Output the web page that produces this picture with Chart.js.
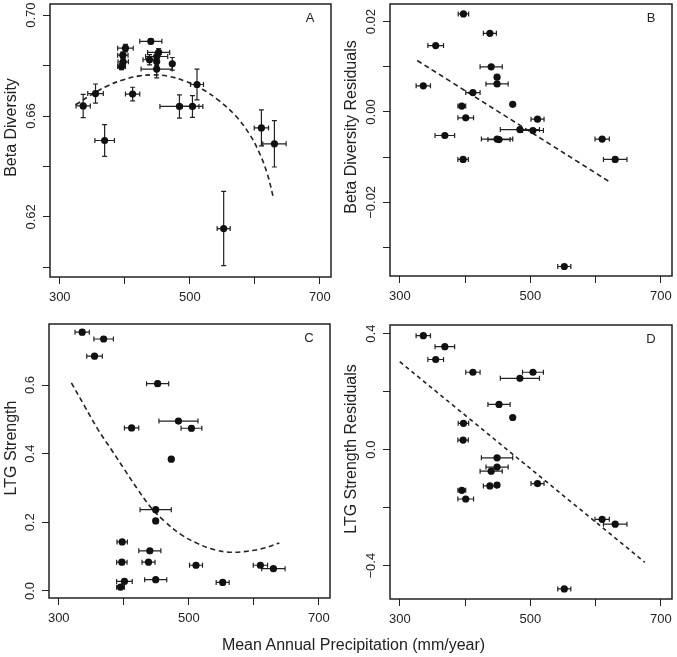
<!DOCTYPE html>
<html>
<head>
<meta charset="utf-8">
<script src="https://cdn.jsdelivr.net/npm/chart.js@4.4.1/dist/chart.umd.min.js"></script>
<style>
  body { margin: 0; background: #fff; }
  #wrap { position: relative; width: 677px; height: 657px; }
  canvas { position: absolute; }
  #xtitle {
    position: absolute; left: 15px; top: 636px; width: 677px; line-height: 20px;
    text-align: center; font: 16px 'Liberation Sans', Arial, sans-serif; color: #222;
  }
</style>
</head>
<body>
<div id="wrap">
  <canvas id="panelA" width="340" height="315" style="left:0;top:0"></canvas>
  <canvas id="panelB" width="337" height="315" style="left:340px;top:0"></canvas>
  <canvas id="panelC" width="340" height="342" style="left:0;top:315px"></canvas>
  <canvas id="panelD" width="337" height="342" style="left:340px;top:315px"></canvas>
  <div id="xtitle">Mean Annual Precipitation (mm/year)</div>
</div>
<script>
// --- data (one entry per site) ---
const precip    = [336, 355, 369, 395, 397.5, 397, 401, 412, 438, 440, 449, 449, 449, 452, 473, 484, 504, 511, 552, 610, 630];
const precipErr = [11, 12, 15, 6, 8, 8, 12, 11, 10, 17, 24, 17, 3, 17, 2, 30, 16, 10, 10, 11, 18];

const betaDiv    = [0.664, 0.6689, 0.6503, 0.6796, 0.6815, 0.6841, 0.6869, 0.6687, 0.6823, 0.6896, 0.6786,
                    0.6836, 0.6816, 0.6852, 0.6807, 0.6638, 0.6638, 0.6725, 0.6154, 0.6553, 0.649];
const betaDivErr = [0.0046, 0.0038, 0.0063, 0.0012, 0.0012, 0.0012, 0.0015, 0.0027, 0.002, 0.001, 0.0035,
                    0.0015, 0.0015, 0.0015, 0.0025, 0.0046, 0.0043, 0.0061, 0.0147, 0.0071, 0.0092];
const betaResid  = [0.0058, 0.0147, -0.0052, 0.0013, 0.0217, -0.0105, -0.0013, 0.0043, 0.0174, 0.0100, -0.0060,
                    0.0062, 0.0077, -0.0061, 0.0017, -0.0039, -0.0041, -0.0016, -0.0342, -0.0060, -0.0105];

const ltg      = [0.754, 0.684, 0.734, 0.011, 0.143, 0.084, 0.028, 0.475, 0.084, 0.117, 0.237,
                  0.033, 0.204, 0.604, 0.384, 0.495, 0.474, 0.075, 0.025, 0.075, 0.065];
const ltgErr   = [0.007, 0.007, 0.007, 0.006, 0.006, 0.006, 0.006, 0.007, 0.006, 0.006, 0.006,
                  0.006, 0.006, 0.007, 0.006, 0.007, 0.007, 0.006, 0.006, 0.006, 0.006];
const ltgResid = [0.393, 0.311, 0.355, -0.140, 0.091, 0.033, -0.170, 0.267, -0.125, -0.074, -0.028,
                  -0.060, -0.122, 0.156, 0.111, 0.246, 0.267, -0.117, -0.480, -0.240, -0.257];

// fitted lines
const fitAx = [324.5, 345.9, 371.4, 396.9, 422.4, 442.8, 468.3, 493.8, 519.3, 544.8, 570.3, 590.7, 606, 618.8, 629];
const fitAy = [0.6644, 0.6680, 0.6717, 0.6743, 0.6759, 0.6763, 0.6757, 0.6737, 0.6706, 0.6661, 0.6601, 0.6532, 0.6459, 0.6373, 0.6270];
const fitBx = [326.7, 624.1];
const fitBy = [0.0114, -0.0157];
const fitCx = [319.4, 339.9, 360.4, 380.8, 401.3, 421.7, 442.2, 462.7, 488.2, 513.8, 539.4, 565, 590.5, 616.1, 639.1];
const fitCy = [0.606, 0.538, 0.470, 0.412, 0.353, 0.295, 0.242, 0.203, 0.164, 0.138, 0.120, 0.113, 0.116, 0.125, 0.140];
const fitDx = [300, 675.4];
const fitDy = [0.3034, -0.3885];

// ticks
const xTicks = [300, 400, 500, 600, 700];
const xTickLabels = ['300', '', '500', '', '700'];
const yTicksA = [0.60, 0.62, 0.64, 0.66, 0.68, 0.70];
const yLabelsA = ['', '0.62', '', '0.66', '', '0.70'];
const yTicksB = [-0.03, -0.02, -0.01, 0, 0.01, 0.02];
const yLabelsB = ['', '\u22120.02', '', '0.00', '', '0.02'];
const yTicksC = [0, 0.2, 0.4, 0.6];
const yLabelsC = ['0.0', '0.2', '0.4', '0.6'];
const yTicksD = [-0.4, -0.2, 0, 0.2, 0.4];
const yLabelsD = ['\u22120.4', '', '0.0', '', '0.4'];

Chart.defaults.font.family = "'Liberation Sans', Arial, Helvetica, sans-serif";
Chart.defaults.color = '#222';
const TICK_SIZE = 13;

function widestLabel(labels) {
  const ctx = document.createElement('canvas').getContext('2d');
  ctx.font = 'normal ' + TICK_SIZE + 'px ' + Chart.defaults.font.family;
  return Math.max(...labels.map(s => ctx.measureText(s).width));
}

// error bars under the points
const errorBars = {
  id: 'errorBars',
  beforeDatasetsDraw(chart) {
    const {ctx, scales: {x, y}} = chart;
    const cap = 2.5;
    ctx.save();
    ctx.strokeStyle = '#222';
    ctx.lineWidth = 1.2;
    chart.data.datasets[0].data.forEach(p => {
      const px = x.getPixelForValue(p.x), py = y.getPixelForValue(p.y);
      ctx.beginPath();
      if (p.xErr) {
        const x0 = x.getPixelForValue(p.x - p.xErr), x1 = x.getPixelForValue(p.x + p.xErr);
        ctx.moveTo(x0, py); ctx.lineTo(x1, py);
        ctx.moveTo(x0, py - cap); ctx.lineTo(x0, py + cap);
        ctx.moveTo(x1, py - cap); ctx.lineTo(x1, py + cap);
      }
      if (p.yErr) {
        const y0 = y.getPixelForValue(p.y - p.yErr), y1 = y.getPixelForValue(p.y + p.yErr);
        ctx.moveTo(px, y0); ctx.lineTo(px, y1);
        ctx.moveTo(px - cap, y0); ctx.lineTo(px + cap, y0);
        ctx.moveTo(px - cap, y1); ctx.lineTo(px + cap, y1);
      }
      ctx.stroke();
    });
    ctx.restore();
  }
};

// box, panel letter and y title
const panelDeco = {
  id: 'panelDeco',
  afterDraw(chart, args, opts) {
    const {ctx, chartArea: a} = chart;
    ctx.save();
    ctx.strokeStyle = '#222';
    ctx.lineWidth = 1.5;
    ctx.strokeRect(a.left, a.top, a.right - a.left, a.bottom - a.top);
    ctx.fillStyle = '#222';
    ctx.textAlign = 'center';
    ctx.textBaseline = 'middle';
    ctx.font = "13px 'Liberation Sans', Arial, sans-serif";
    ctx.fillText(opts.letter, a.right - 21, a.top + 14);
    ctx.translate(12, (a.top + a.bottom) / 2 - 13);
    ctx.rotate(-Math.PI / 2);
    ctx.font = "16px 'Liberation Sans', Arial, sans-serif";
    ctx.fillText(opts.title, 0, 0);
    ctx.restore();
  }
};

function makePanel(id, p) {
  const pad = 12 - widestLabel(p.yLabels.filter(s => s)) / 2;
  const points = precip.map((v, i) => ({x: v, y: p.y[i], xErr: precipErr[i], yErr: p.yErr ? p.yErr[i] : 0}));
  const fit = p.fitX.map((v, i) => ({x: v, y: p.fitY[i]}));
  const gridOpts = {drawOnChartArea: false, drawTicks: true, tickLength: 7, color: '#222', lineWidth: 1};
  return new Chart(document.getElementById(id), {
    type: 'scatter',
    data: {
      datasets: [
        {data: points, pointRadius: 3.6, pointHoverRadius: 3.6, backgroundColor: '#111', borderWidth: 0},
        {data: fit, showLine: true, pointRadius: 0, borderColor: '#222', borderWidth: 1.6,
         borderDash: p.dash, tension: 0.4, fill: false}
      ]
    },
    options: {
      responsive: false,
      animation: false,
      events: [],
      layout: {padding: p.padding},
      plugins: {
        legend: {display: false},
        tooltip: {enabled: false},
        panelDeco: {letter: p.letter, title: p.yTitle}
      },
      scales: {
        x: {
          type: 'linear', min: 285, max: 717,
          afterBuildTicks: s => { s.ticks = xTicks.map(v => ({value: v})); },
          afterFit: s => { s.height = p.xAxisH; s.paddingLeft = s.paddingRight = 0; },
          ticks: {autoSkip: false, maxRotation: 0, padding: 6, font: {size: TICK_SIZE}, color: '#222',
                  callback: (v, i) => xTickLabels[i]},
          grid: gridOpts,
          border: {display: false}
        },
        y: {
          type: 'linear', min: p.yMin, max: p.yMax,
          afterBuildTicks: s => { s.ticks = p.yTicks.map(v => ({value: v})); },
          afterFit: s => { s.width = p.yAxisW; s.paddingTop = s.paddingBottom = 0; },
          ticks: {autoSkip: false, minRotation: 90, maxRotation: 90, crossAlign: 'center', padding: pad,
                  font: {size: TICK_SIZE}, color: '#222', callback: (v, i) => p.yLabels[i]},
          grid: gridOpts,
          border: {display: false}
        }
      }
    },
    plugins: [errorBars, panelDeco]
  });
}

makePanel('panelA', {
  letter: 'A', yTitle: 'Beta Diversity', y: betaDiv, yErr: betaDivErr,
  fitX: fitAx, fitY: fitAy, dash: [5, 3.5],
  yMin: 0.5962, yMax: 0.7044, yTicks: yTicksA, yLabels: yLabelsA,
  padding: {left: 0, top: 4, right: 9, bottom: 0}, xAxisH: 38, yAxisW: 50
});
makePanel('panelB', {
  letter: 'B', yTitle: 'Beta Diversity Residuals', y: betaResid, yErr: null,
  fitX: fitBx, fitY: fitBy, dash: [5, 3.5],
  yMin: -0.0363, yMax: 0.0239, yTicks: yTicksB, yLabels: yLabelsB,
  padding: {left: 0, top: 4, right: 5, bottom: 0}, xAxisH: 39, yAxisW: 50
});
makePanel('panelC', {
  letter: 'C', yTitle: 'LTG Strength', y: ltg, yErr: ltgErr,
  fitX: fitCx, fitY: fitCy, dash: [5, 3.5],
  yMin: -0.0204, yMax: 0.7777, yTicks: yTicksC, yLabels: yLabelsC,
  padding: {left: 0, top: 9, right: 10, bottom: 0}, xAxisH: 59, yAxisW: 49
});
makePanel('panelD', {
  letter: 'D', yTitle: 'LTG Strength Residuals', y: ltgResid, yErr: null,
  fitX: fitDx, fitY: fitDy, dash: [4, 3.5],
  yMin: -0.5149, yMax: 0.4299, yTicks: yTicksD, yLabels: yLabelsD,
  padding: {left: 0, top: 10, right: 5, bottom: 0}, xAxisH: 58, yAxisW: 50
});
</script>
</body>
</html>
